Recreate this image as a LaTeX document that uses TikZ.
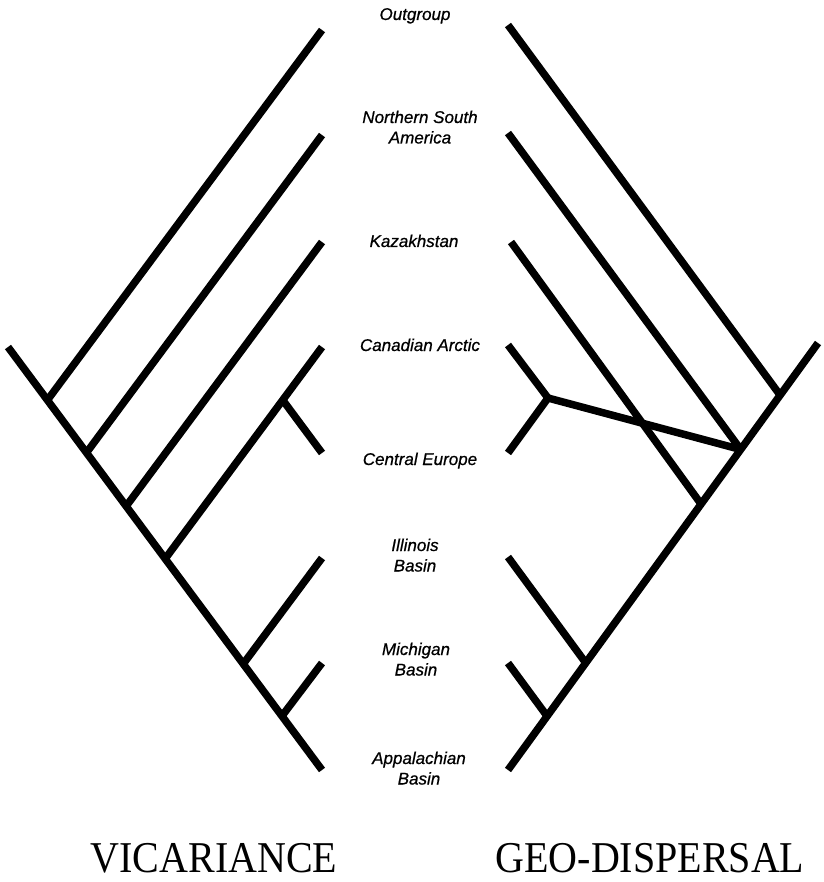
\documentclass[tikz,border=0pt]{standalone}
\usepackage{fontspec}
\usepackage{graphicx}
\setmainfont{Liberation Serif}
\newfontfamily\labfont[FakeBold=0.6]{Liberation Sans}
\begin{document}
\begin{tikzpicture}[x=1pt,y=-1pt,
  branch/.style={line width=7.5pt, line join=round, black},
  taxon/.style={anchor=base, inner sep=0pt, font=\labfont\itshape\fontsize{17}{20.5}\selectfont},
  method/.style={anchor=base, inner sep=0pt, font=\fontsize{40}{44}\selectfont}]
\useasboundingbox (0,0) rectangle (823,882);
\fill[white] (0,0) rectangle (823,882);
% ---------- left tree (vicariance) ----------
\coordinate (ltop) at (8,347);
\coordinate (lt1) at (322,30);
\coordinate (lt2) at (322,135);
\coordinate (lt3) at (322,242);
\coordinate (lt4) at (322,347);
\coordinate (lt5) at (322,453);
\coordinate (lt6) at (322,558);
\coordinate (lt7) at (322,663);
\coordinate (lt8) at (322,770);
\coordinate (lj1) at (47.5,400);
\coordinate (lj2) at (86.4,452.8);
\coordinate (lj3) at (126.1,506.3);
\coordinate (lj4) at (165,559);
\coordinate (lj45) at (282.7,400);
\coordinate (lj6) at (243.2,664);
\coordinate (lj7) at (282,716);
\draw[branch] (ltop) -- (lt8);
\draw[branch] (lj1) -- (lt1);
\draw[branch] (lj2) -- (lt2);
\draw[branch] (lj3) -- (lt3);
\draw[branch] (lj4) -- (lt4);
\draw[branch] (lj45) -- (lt5);
\draw[branch] (lj6) -- (lt6);
\draw[branch] (lj7) -- (lt7);
% ---------- right tree (geo-dispersal) ----------
\coordinate (rtop) at (818,343);
\coordinate (rt1) at (508,25);
\coordinate (rt2) at (508,133);
\coordinate (rt3) at (511,242);
\coordinate (rt4) at (508,345);
\coordinate (rt5) at (508,453);
\coordinate (rt6) at (508,557);
\coordinate (rt7) at (508,663);
\coordinate (rt8) at (508,770);
\coordinate (rj1) at (780,395);
\coordinate (rj2) at (740.7,449.5);
\coordinate (rj3) at (701,504);
\coordinate (rj45) at (548,398);
\coordinate (rj6) at (585.8,663);
\coordinate (rj7) at (547,716);
\draw[branch] (rtop) -- (rt8);
\draw[branch] (rt1) -- (rj1);
\draw[branch] (rt2) -- (rj2);
\draw[branch] (rt3) -- (rj3);
\draw[branch] (rt4) -- (rj45) -- (rt5);
\draw[branch] (rj45) -- (rj2);
\draw[branch] (rt6) -- (rj6);
\draw[branch] (rt7) -- (rj7);
% ---------- taxon labels ----------
\node[taxon] (out) at (415,20) {Outgroup};
\node[taxon] (nsa) at (420,123) {\begin{tabular}[t]{@{}c@{}}Northern South\\America\end{tabular}};
\node[taxon] (kaz) at (414,247) {Kazakhstan};
\node[taxon] (can) at (420,351) {Canadian Arctic};
\node[taxon] (eur) at (420,465) {Central Europe};
\node[taxon] (ill) at (415,551) {\begin{tabular}[t]{@{}c@{}}Illinois\\Basin\end{tabular}};
\node[taxon] (mic) at (416,655) {\begin{tabular}[t]{@{}c@{}}Michigan\\Basin\end{tabular}};
\node[taxon] (app) at (419,764) {\begin{tabular}[t]{@{}c@{}}Appalachian\\Basin\end{tabular}};
% ---------- titles ----------
\node[method] (vic) at (214,872) {\scalebox{1}[1.1]{VICARIANCE}};
\node[method] (geo) at (650,872) {\scalebox{1}[1.1]{GEO-DISPERSAL}};
\end{tikzpicture}
\end{document}
